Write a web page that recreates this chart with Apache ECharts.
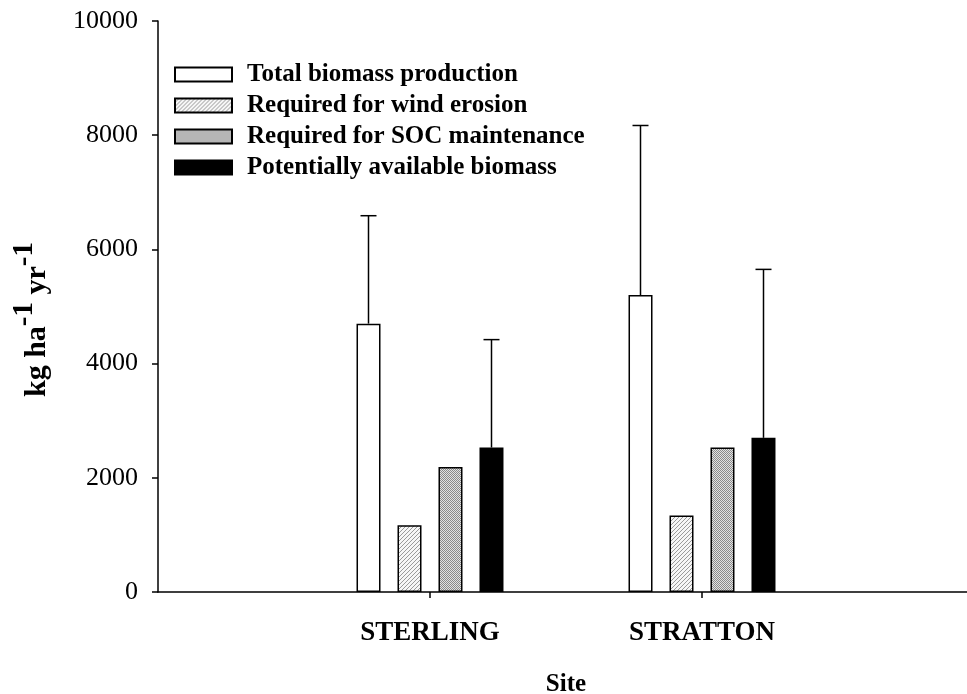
<!DOCTYPE html>
<html>
<head>
<meta charset="utf-8">
<title>Biomass by site</title>
<script src="https://cdn.jsdelivr.net/npm/echarts@6/dist/echarts.min.js"></script>
<style>
  html, body { margin: 0; padding: 0; background: #fff; overflow: hidden; }
  #chart { width: 967px; height: 694px; }
</style>
</head>
<body>
<div id="chart"></div>
<script>
// Sites (empty entries pad the axis on both sides)
const categories = ['', 'STERLING', 'STRATTON', ''];

// Biomass, kg ha-1 yr-1
const totalBiomass     = [null, 4700, 5200, null];
const windErosion      = [null, 1170, 1340, null];
const socMaintenance   = [null, 2190, 2530, null];
const availableBiomass = [null, 2530, 2700, null];

// Upper error bars (standard deviation)
const totalErr     = [null, 1890, 2970, null];
const availableErr = [null, 1890, 2950, null];

const seriesNames = [
  'Total biomass production',
  'Required for wind erosion',
  'Required for SOC maintenance',
  'Potentially available biomass'
];

const FONT = '"Liberation Serif", "Times New Roman", serif';
const BAR_W = 24;
const BAR_GAP = 17;

// Fill patterns
function hatchPattern() {
  const c = document.createElement('canvas');
  c.width = 4; c.height = 4;
  const g = c.getContext('2d');
  g.fillStyle = '#f6f6f6';
  g.fillRect(0, 0, 4, 4);
  g.strokeStyle = '#9a9a9a';
  g.lineWidth = 1;
  g.beginPath();
  g.moveTo(-1, 5); g.lineTo(5, -1);
  g.moveTo(-1, 1); g.lineTo(1, -1);
  g.moveTo(3, 5); g.lineTo(5, 3);
  g.stroke();
  return c;
}
function dotPattern() {
  const c = document.createElement('canvas');
  c.width = 2; c.height = 2;
  const g = c.getContext('2d');
  g.fillStyle = '#e2e2e2';
  g.fillRect(0, 0, 2, 2);
  g.fillStyle = '#8a8a8a';
  g.fillRect(0, 0, 1, 1);
  g.fillRect(1, 1, 1, 1);
  return c;
}

const fills = [
  '#ffffff',
  { image: hatchPattern(), repeat: 'repeat' },
  { image: dotPattern(), repeat: 'repeat' },
  '#000000'
];
const values = [totalBiomass, windErosion, socMaintenance, availableBiomass];

const barSeries = values.map((vals, i) => ({
  name: seriesNames[i],
  type: 'bar',
  data: vals,
  barWidth: BAR_W,
  barGap: (BAR_GAP / BAR_W * 100).toFixed(1) + '%',
  itemStyle: { color: fills[i], borderColor: '#000', borderWidth: 1.5 },
  emphasis: { disabled: true },
  z: 2
}));

// Offset of each bar from its category centre
function barOffset(i) {
  return (i - 1.5) * (BAR_W + BAR_GAP);
}

function errorSeries(vals, errs, barIndex) {
  return {
    type: 'custom',
    silent: true,
    z: 3,
    data: vals.map((v, k) => (v == null ? null : [k, v, errs[k]])).filter(d => d),
    renderItem: function (params, api) {
      const base = api.coord([api.value(0), api.value(1)]);
      const top = api.coord([api.value(0), api.value(1) + api.value(2)]);
      const x = base[0] + barOffset(barIndex);
      const style = { stroke: '#000', lineWidth: 1.5 };
      return {
        type: 'group',
        children: [
          { type: 'line', shape: { x1: x, y1: base[1], x2: x, y2: top[1] }, style: style },
          { type: 'line', shape: { x1: x - 8, y1: top[1], x2: x + 8, y2: top[1] }, style: style }
        ]
      };
    }
  };
}

const chart = echarts.init(document.getElementById('chart'), null, { renderer: 'canvas' });

chart.setOption({
  animation: false,
  backgroundColor: '#fff',
  textStyle: { fontFamily: FONT, color: '#000' },
  grid: {
    left: 158, width: 816, top: 21, bottom: 102,
    containLabel: false, outerBoundsMode: 'none'
  },
  legend: {
    orient: 'vertical',
    left: 174,
    top: 62,
    padding: 0,
    itemWidth: 57,
    itemHeight: 14,
    itemGap: 6,
    selectedMode: false,
    data: seriesNames,
    icon: 'rect',
    textStyle: {
      fontFamily: FONT, fontSize: 25, fontWeight: 'bold', color: '#000',
      lineHeight: 25, padding: [0, 0, 0, 10]
    }
  },
  xAxis: {
    type: 'category',
    data: categories,
    boundaryGap: false,
    name: 'Site',
    nameLocation: 'middle',
    nameGap: 80,
    nameTextStyle: { fontFamily: FONT, fontSize: 25, fontWeight: 'bold', color: '#000' },
    axisLine: { lineStyle: { color: '#000', width: 1.5 } },
    axisTick: {
      length: 6,
      lineStyle: { color: '#000', width: 1.5 },
      interval: (idx, val) => val !== ''
    },
    axisLabel: {
      margin: 28,
      fontFamily: FONT,
      fontSize: 27,
      fontWeight: 'bold',
      color: '#000',
      interval: 0
    },
    splitLine: { show: false }
  },
  yAxis: {
    type: 'value',
    min: 0,
    max: 10000,
    interval: 2000,
    name: '{b|kg ha}{s|-1}{b| yr}{s|-1}',
    nameLocation: 'middle',
    nameRotate: 90,
    nameGap: 106,
    nameTextStyle: {
      padding: [0, 26, 0, 0],
      rich: {
        b: { fontFamily: FONT, fontSize: 30, fontWeight: 'bold', color: '#000', lineHeight: 42, verticalAlign: 'bottom' },
        s: { fontFamily: FONT, fontSize: 29, fontWeight: 'bold', color: '#000', lineHeight: 42, verticalAlign: 'top', padding: [0, 0, 13, 0] }
      }
    },
    axisLine: { show: true, lineStyle: { color: '#000', width: 1.5 } },
    axisTick: { show: true, length: 6, lineStyle: { color: '#000', width: 1.5 } },
    axisLabel: {
      margin: 20, fontFamily: FONT, fontSize: 26, color: '#000',
      formatter: v => String(v)
    },
    splitLine: { show: false }
  },
  series: barSeries.concat([
    errorSeries(totalBiomass, totalErr, 0),
    errorSeries(availableBiomass, availableErr, 3)
  ])
});
</script>
</body>
</html>
